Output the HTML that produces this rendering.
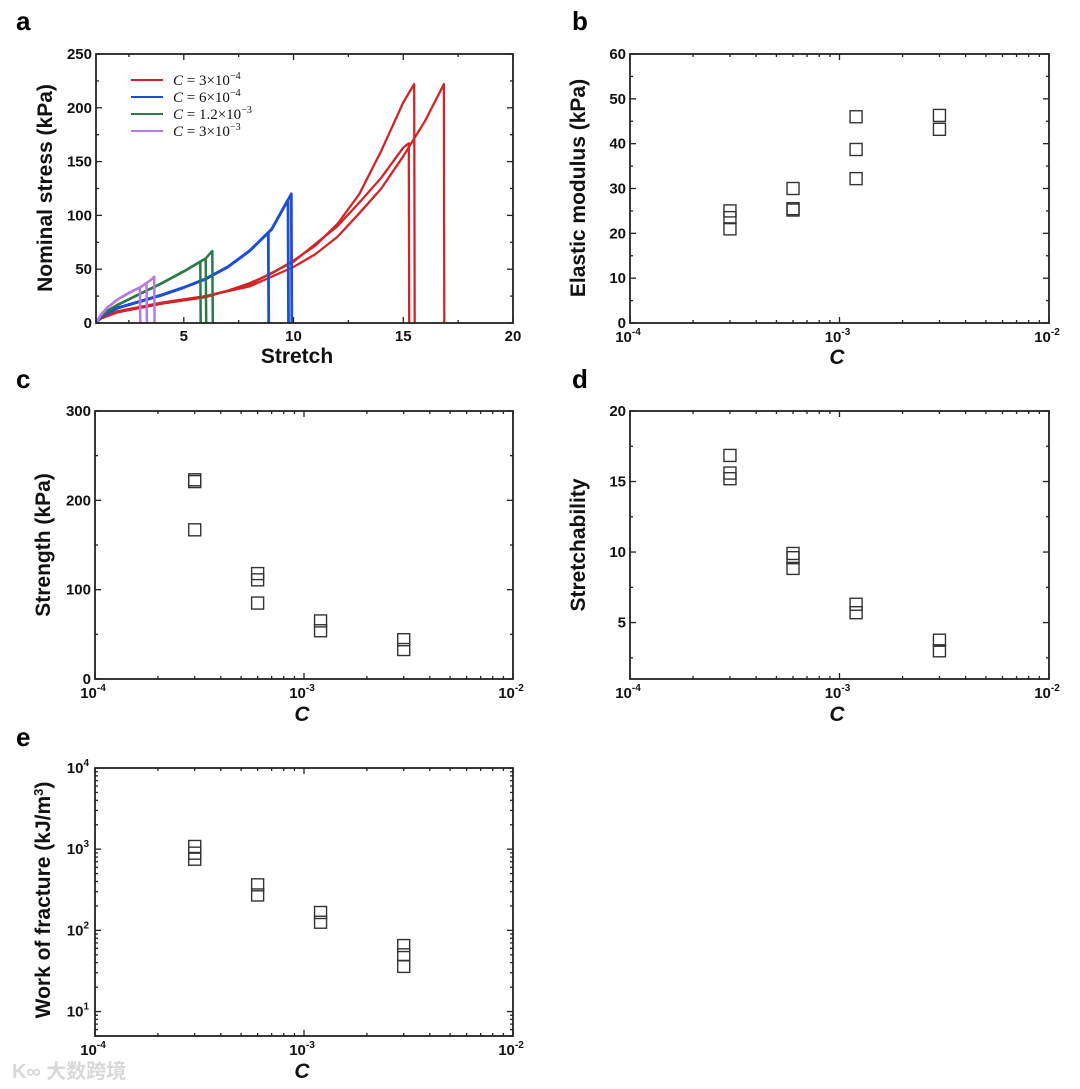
<!DOCTYPE html>
<html><head><meta charset="utf-8"><style>
html,body{margin:0;padding:0;background:#fff;}
svg{display:block;font-family:"Liberation Sans",Arial,sans-serif;}
.tk{font-size:15px;font-weight:bold;fill:#111;}
.tt{font-size:21px;font-weight:bold;fill:#111;}
.pl{font-size:26px;font-weight:bold;fill:#000;}
.lg{font-size:15px;font-family:"Liberation Serif",serif;fill:#111;}
</style></head><body>
<svg id="fig" width="1080" height="1089" viewBox="0 0 1080 1089" xmlns="http://www.w3.org/2000/svg"></svg>
<script>
// ---- Panel a data (stretch, stress kPa) ----
const redAStretch=[1,1.2,1.5,2,3,4,5,6,7,8,9,10,11,12,13,14,15,15.5];
const redAStress=[0,4,7,11,15,19,22,25,30,37,46,58,72,92,120,160,205,222];
const redBStretch=[1,1.2,2,4,6,8,10,12,13,14,15,15.25];
const redBStress=[0,4,10,18,24,36,57,90,112,135,163,167];
const redCStretch=[1,1.2,2,4,6,8,10,11,12,13,14,15,16,16.85];
const redCStress=[0,4,10,18,25,34,52,64,80,102,125,155,188,222];
const blueStretch=[1,1.2,1.5,2,3,4,5,6,7,8,9,9.9];
const blueStress=[0,5,9,14,20,26,33,41,52,67,87,120];
const blueBreaks=[8.85,9.75,9.9];
const greenStretch=[1,1.2,1.5,2,3,4,5,6,6.3];
const greenStress=[0,6,11,17,27,37,48,60,67];
const greenBreaks=[5.75,6.0,6.3];
const purpleStretch=[1,1.2,1.5,2,2.5,3,3.5,3.65];
const purpleStress=[0,7,14,22,28,33,40,43];
const purpleBreaks=[3.0,3.3,3.65];
const legendLabels=["3×10","6×10","1.2×10","3×10"];
const legendExps=["−4","−4","−3","−3"];
// ---- Panels b-e data ----
const concB=[3e-4,3e-4,3e-4,6e-4,6e-4,6e-4,1.2e-3,1.2e-3,1.2e-3,3e-3,3e-3];
const modulusVals=[25,23.5,21,30,25.5,25.2,46,38.7,32.2,46.3,43.2];
const concC=[3e-4,3e-4,3e-4,6e-4,6e-4,6e-4,1.2e-3,1.2e-3,3e-3,3e-3];
const strengthVals=[223,221,167,118,111,85,65,54,44,33];
const concD=[3e-4,3e-4,3e-4,6e-4,6e-4,6e-4,1.2e-3,1.2e-3,3e-3,3e-3];
const stretchVals=[16.85,15.6,15.2,9.9,9.6,8.84,6.3,5.7,3.75,3.0];
const concE=[3e-4,3e-4,3e-4,6e-4,6e-4,1.2e-3,1.2e-3,3e-3,3e-3,3e-3];
const workVals=[1080,893,753,364,273,166,126,65,50,36];

const NS="http://www.w3.org/2000/svg";
const svg=document.getElementById('fig');
function el(tag,attrs,parent){const e=document.createElementNS(NS,tag);for(const k in attrs)e.setAttribute(k,attrs[k]);(parent||svg).appendChild(e);return e;}
function txt(s,x,y,cls,anchor,parent){const t=el('text',{x:x,y:y,class:cls,'text-anchor':anchor||'middle'},parent);t.textContent=s;return t;}

function linScale(d0,d1,r0,r1){return v=>r0+(v-d0)/(d1-d0)*(r1-r0);}
function logScale(d0,d1,r0,r1){return v=>r0+(Math.log10(v)-Math.log10(d0))/(Math.log10(d1)-Math.log10(d0))*(r1-r0);}

function frame(g,L,T,R,B){
  const f=el('rect',{x:L,y:T,width:R-L,height:B-T,fill:'none',stroke:'#222','stroke-width':1.8},g);
  
}
function xTick(g,x,T,B,len){el('line',{x1:x,x2:x,y1:B,y2:B-len,stroke:'#222','stroke-width':1.3},g);el('line',{x1:x,x2:x,y1:T,y2:T+len,stroke:'#222','stroke-width':1.3},g);}
function yTick(g,y,L,R,len){el('line',{x1:L,x2:L+len,y1:y,y2:y,stroke:'#222','stroke-width':1.3},g);el('line',{x1:R,x2:R-len,y1:y,y2:y,stroke:'#222','stroke-width':1.3},g);}

function logXAxis(g,L,T,R,B,sx){
  const decs=[-4,-3,-2];
  decs.forEach(d=>{
    const x=sx(Math.pow(10,d));xTick(g,x,T,B,6);
    const t=el('text',{x:x-2,y:B+19,class:'tk','text-anchor':'middle'},g);
    
    t.textContent='10';
    const s=el('tspan',{dy:-7,'font-size':'10px'},t);s.textContent=String(d);
  });
  for(let d=-4;d<-2;d++)for(let m=2;m<10;m++)xTick(g,sx(m*Math.pow(10,d)),T,B,3);
}
function linYAxis(g,L,T,R,B,sy,ticks,minors){
  ticks.forEach(v=>{const y=sy(v);yTick(g,y,L,R,6);const t=txt(String(v),L-4,y+5,'tk','end',g);});
  minors.forEach(v=>yTick(g,sy(v),L,R,3));
}
function squares(g,xs,ys,sx,sy,name){
  xs.forEach((c,i)=>{const r=el('rect',{x:sx(c)-6,y:sy(ys[i])-6,width:12,height:12,fill:'none',stroke:'#333','stroke-width':1.4},g);
    });
}
function yTitle(g,s,x,y){const t=el('text',{x:x,y:y,class:'tt','text-anchor':'middle',transform:`rotate(-90 ${x} ${y})`},g);t.textContent=s;return t;}
function xTitleC(g,x,y){const t=el('text',{x:x,y:y,class:'tt','text-anchor':'middle','font-style':'italic'},g);t.textContent='C';}
function panelLabel(s,x,y){const t=txt(s,x,y,'pl','start');}

// ---------- Panel a ----------
(function(){
  const g=el('g',{});
  const L=96,T=54,R=513,B=323;
  const sx=linScale(1,20,L,R), sy=linScale(0,250,B,T);
  function interp(xs,ys,x){for(let i=1;i<xs.length;i++){if(x<=xs[i]){const f=(x-xs[i-1])/(xs[i]-xs[i-1]);return ys[i-1]+f*(ys[i]-ys[i-1]);}}return ys[ys.length-1];}
  function curve(xs,ys,brk,color,name,w){
    let pts=[];for(let i=0;i<xs.length&&xs[i]<brk;i++)pts.push([xs[i],ys[i]]);
    const yb=interp(xs,ys,brk);pts.push([brk,yb]);pts.push([brk+0.02,0]);
    const p=el('polyline',{points:pts.map(q=>sx(q[0]).toFixed(1)+','+sy(q[1]).toFixed(1)).join(' '),fill:'none',stroke:color,'stroke-width':w||2.3,'stroke-linejoin':'round'},g);
    
  }
  curve(redAStretch,redAStress,redAStretch[redAStretch.length-1],'#d0262a','curve-red-1');
  curve(redBStretch,redBStress,redBStretch[redBStretch.length-1],'#d0262a','curve-red-2');
  curve(redCStretch,redCStress,redCStretch[redCStretch.length-1],'#d0262a','curve-red-3');
  blueBreaks.forEach(b=>curve(blueStretch,blueStress,b,'#1f4fd0','curve-blue',2.8));
  greenBreaks.forEach(b=>curve(greenStretch,greenStress,b,'#2a7a45','curve-green',2.5));
  purpleBreaks.forEach(b=>curve(purpleStretch,purpleStress,b,'#b57be0','curve-purple',2.5));
  frame(g,L,T,R,B);
  [5,10,15,20].forEach(v=>{xTick(g,sx(v),T,B,6);const t=txt(String(v),sx(v),B+18,'tk','middle',g);});
  [2.5,7.5,12.5,17.5].forEach(v=>xTick(g,sx(v),T,B,3));
  linYAxis(g,L,T,R,B,sy,[0,50,100,150,200,250],[25,75,125,175,225]);
  yTitle(g,'Nominal stress (kPa)',52,188);
  const xt=txt('Stretch',297,363,'tt','middle',g);
  const colors=['#d0262a','#1f4fd0','#2a7a45','#b57be0'];
  legendLabels.forEach((lab,i)=>{
    const y=80+i*17;
    const le=el('g',{},g);
    el('line',{x1:131,x2:163,y1:y,y2:y,stroke:colors[i],'stroke-width':2},le);
    const t=el('text',{x:173,y:y+5,class:'lg'},le);
    const c=el('tspan',{'font-style':'italic'},t);c.textContent='C';
    const m=el('tspan',{},t);m.textContent=' = '+lab;
    const e=el('tspan',{dy:-6,'font-size':'10px'},t);e.textContent=legendExps[i];
  });
})();
panelLabel('a',16,30);

// ---------- Panel b ----------
(function(){
  const g=el('g',{});
  const L=630,T=54,R=1049,B=323;
  const sx=logScale(1e-4,1e-2,L,R), sy=linScale(0,60,B,T);
  frame(g,L,T,R,B);logXAxis(g,L,T,R,B,sx);
  linYAxis(g,L,T,R,B,sy,[0,10,20,30,40,50,60],[5,15,25,35,45,55]);
  squares(g,concB,modulusVals,sx,sy,'modulus-point');
  yTitle(g,'Elastic modulus (kPa)',585,188);xTitleC(g,837,364);
})();
panelLabel('b',572,30);

// ---------- Panel c ----------
(function(){
  const g=el('g',{});
  const L=95,T=411,R=513,B=679;
  const sx=logScale(1e-4,1e-2,L,R), sy=linScale(0,300,B,T);
  frame(g,L,T,R,B);logXAxis(g,L,T,R,B,sx);
  linYAxis(g,L,T,R,B,sy,[0,100,200,300],[50,150,250]);
  squares(g,concC,strengthVals,sx,sy,'strength-point');
  yTitle(g,'Strength (kPa)',50,545);xTitleC(g,302,721);
})();
panelLabel('c',16,388);

// ---------- Panel d ----------
(function(){
  const g=el('g',{});
  const L=630,T=411,R=1049,B=679;
  const sx=logScale(1e-4,1e-2,L,R), sy=linScale(1,20,B,T);
  frame(g,L,T,R,B);logXAxis(g,L,T,R,B,sx);
  linYAxis(g,L,T,R,B,sy,[5,10,15,20],[2.5,7.5,12.5,17.5]);
  squares(g,concD,stretchVals,sx,sy,'stretchability-point');
  yTitle(g,'Stretchability',585,545);xTitleC(g,837,721);
})();
panelLabel('d',572,388);

// ---------- Panel e ----------
(function(){
  const g=el('g',{});
  const L=95,T=768,R=513,B=1036;
  const sx=logScale(1e-4,1e-2,L,R), sy=logScale(5,1e4,B,T);
  frame(g,L,T,R,B);logXAxis(g,L,T,R,B,sx);
  [1,2,3,4].forEach(d=>{const y=sy(Math.pow(10,d));yTick(g,y,L,R,6);
    const t=el('text',{x:L-6,y:y+5,class:'tk','text-anchor':'end'},g);
    const a=el('tspan',{},t);a.textContent='10';const s=el('tspan',{dy:-7,'font-size':'10px'},t);s.textContent=String(d);});
  for(let d=0;d<4;d++)for(let m=2;m<10;m++){const v=m*Math.pow(10,d);if(v>=5&&v<=1e4)yTick(g,sy(v),L,R,3);}
  squares(g,concE,workVals,sx,sy,'work-point');
  const t=yTitle(g,'Work of fracture (kJ/m',50,900);const s=el('tspan',{dy:-7,'font-size':'13px'},t);s.textContent='3';const s2=el('tspan',{dy:7},t);s2.textContent=')';
  xTitleC(g,302,1078);
})();
panelLabel('e',16,746);

const wm=el('text',{x:12,y:1078,'font-size':'20px','font-family':'"Liberation Sans","Noto Sans CJK SC",sans-serif',fill:'#d8d8d8','font-weight':'bold'});

wm.textContent='K∞ 大数跨境';
</script>
</body></html>
